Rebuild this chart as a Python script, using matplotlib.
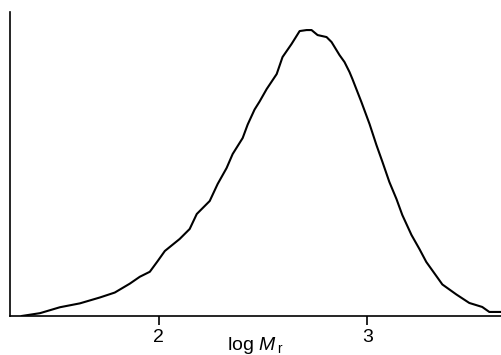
"""Molecular mass distribution curve (log Mr)"""
import matplotlib
matplotlib.use("Agg")
import matplotlib.pyplot as plt  # type: ignore

plt.rcParams['font.family'] = ['Liberation Sans', 'DejaVu Sans']
plt.rcParams['mathtext.fontset'] = 'custom'
plt.rcParams['mathtext.rm'] = 'Liberation Sans'
plt.rcParams['mathtext.it'] = 'Liberation Sans:italic'

# log Mr vs. relative amount
log_mr = [1.344, 1.431, 1.526, 1.622, 1.718, 1.789, 1.861, 1.909, 1.957, 1.995,
          2.029, 2.100, 2.148, 2.182, 2.244, 2.282, 2.325, 2.354, 2.402, 2.426,
          2.459, 2.483, 2.517, 2.565, 2.593, 2.636, 2.675, 2.708, 2.732, 2.761,
          2.804, 2.828, 2.866, 2.890, 2.914, 2.928, 2.971, 3.010, 3.043, 3.072,
          3.105, 3.139, 3.167, 3.211, 3.249, 3.282, 3.306, 3.359, 3.426, 3.488,
          3.550, 3.584, 3.640]
amount = [0, 2.8, 8.7, 12.6, 18.5, 23.4, 32.3, 39.2, 44.2, 55,
          65, 77, 87, 102, 115, 132, 148, 162, 178, 191.5,
          206.5, 214.5, 227, 242, 259, 272, 285, 286, 286, 281,
          279, 274, 261, 254, 244, 237, 214, 192, 171, 154,
          134, 117, 101, 81, 67, 54, 47, 31.5, 21.5, 13,
          9, 4, 4]
tick_pos = [2, 3]
tick_labels = ["2", "3"]

fig = plt.figure(figsize=(5.01, 3.55), dpi=100)
ax = fig.add_axes([0.02, 0.11, 0.98, 0.856])
ax.plot(log_mr, amount, color="black", linewidth=1.5)

ax.set_xlim(1.287, 3.64)
ax.set_ylim(0, 304)
ax.spines['top'].set_visible(False)
ax.spines['right'].set_visible(False)
ax.spines['left'].set_linewidth(1.2)
ax.spines['bottom'].set_linewidth(1.2)
ax.set_yticks([])
ax.set_xticks(tick_pos)
ax.set_xticklabels(tick_labels, fontsize=14)
ax.tick_params(axis='x', direction='out', length=6.5, width=1.2, pad=3)
ax.set_xlabel(r"log $\mathit{M}_{\;\mathrm{r}}$", fontsize=14, labelpad=-8)

fig.savefig("out.png", dpi=100)
